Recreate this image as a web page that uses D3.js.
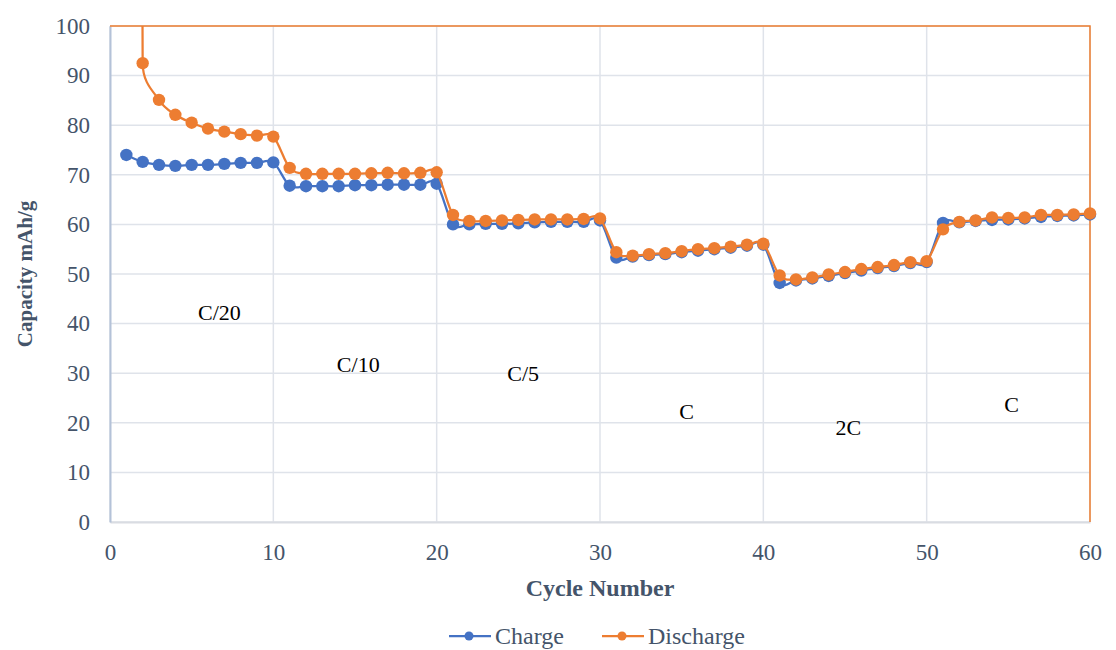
<!DOCTYPE html>
<html>
<head>
<meta charset="utf-8">
<script src="https://cdn.jsdelivr.net/npm/d3@7"></script>
<style>
  html, body { margin: 0; padding: 0; background: #ffffff; }
  svg { display: block; font-family: "Liberation Serif", "Times New Roman", serif; }
</style>
</head>
<body>
<svg id="chart" width="1116" height="650"></svg>
<script>
// Rate-capability test: charge / discharge capacity per cycle
const cycles = [
  1, 2, 3, 4, 5, 6, 7, 8, 9, 10,
  11, 12, 13, 14, 15, 16, 17, 18, 19, 20,
  21, 22, 23, 24, 25, 26, 27, 28, 29, 30,
  31, 32, 33, 34, 35, 36, 37, 38, 39, 40,
  41, 42, 43, 44, 45, 46, 47, 48, 49, 50,
  51, 52, 53, 54, 55, 56, 57, 58, 59, 60
];
const charge = [
  74.0, 72.6, 72.0, 71.8, 72.0, 72.0, 72.2, 72.4, 72.4, 72.5,
  67.8, 67.7, 67.7, 67.7, 67.9, 67.9, 68.0, 68.0, 68.0, 68.2,
  60.0, 60.0, 60.1, 60.1, 60.2, 60.4, 60.5, 60.5, 60.5, 60.8,
  53.3, 53.5, 53.8, 54.0, 54.4, 54.7, 55.0, 55.3, 55.7, 55.9,
  48.2, 48.7, 49.1, 49.6, 50.2, 50.7, 51.2, 51.6, 52.2, 52.4,
  60.3, 60.4, 60.7, 60.9, 61.0, 61.2, 61.5, 61.7, 61.8, 62.0
];
const discharge = [
  1000, 92.5, 85.1, 82.1, 80.5, 79.3, 78.7, 78.2, 77.9, 77.7,
  71.4, 70.2, 70.2, 70.2, 70.2, 70.3, 70.4, 70.3, 70.4, 70.5,
  61.9, 60.7, 60.7, 60.8, 60.9, 61.0, 61.0, 61.0, 61.1, 61.2,
  54.4, 53.7, 54.0, 54.2, 54.6, 55.0, 55.2, 55.5, 55.9, 56.1,
  49.7, 48.9, 49.3, 49.9, 50.4, 51.0, 51.4, 51.8, 52.4, 52.6,
  59.0, 60.5, 60.8, 61.4, 61.3, 61.4, 61.9, 61.9, 62.0, 62.2
];
const xTicks = [0, 10, 20, 30, 40, 50, 60];
const yTicks = [0, 10, 20, 30, 40, 50, 60, 70, 80, 90, 100];
const seriesNames = ["Charge", "Discharge"];
// C-rate of each block of ten cycles, anchored at [cycle, capacity]
const rateLabels = ["C/20", "C/10", "C/5", "C", "2C", "C"];
const rateLabelAt = [[6.7, 42.3], [15.2, 31.7], [25.3, 30.0], [35.3, 22.2], [45.2, 19.0], [55.2, 23.6]];

const colors = { Charge: "#4472c4", Discharge: "#ed7d31" };
const textColor = "#44546a";

// Smoothed line: cubic Béziers with Catmull-Rom tangents (1/6 of the
// neighbour span), each handle capped at half of its segment's chord.
function SmoothCapped(context) { this._context = context; }
SmoothCapped.prototype = {
  areaStart() { this._line = 0; },
  areaEnd() { this._line = NaN; },
  lineStart() { this._pts = []; },
  point(px, py) { this._pts.push([+px, +py]); },
  lineEnd() {
    const p = this._pts, n = p.length, c = this._context;
    if (!n) return;
    c.moveTo(p[0][0], p[0][1]);
    if (n === 1) return;
    const tan = p.map((q, i) => {
      const a = p[Math.max(0, i - 1)], b = p[Math.min(n - 1, i + 1)];
      return [(b[0] - a[0]) / 6, (b[1] - a[1]) / 6];
    });
    const cap = (t, m) => {
      const len = Math.hypot(t[0], t[1]);
      return len > m ? [t[0] * m / len, t[1] * m / len] : t;
    };
    for (let i = 0; i < n - 1; i++) {
      const a = p[i], b = p[i + 1];
      const chord = Math.hypot(b[0] - a[0], b[1] - a[1]);
      const t0 = cap(tan[i], chord * 0.5), t1 = cap(tan[i + 1], chord * 0.5);
      c.bezierCurveTo(a[0] + t0[0], a[1] + t0[1], b[0] - t1[0], b[1] - t1[1], b[0], b[1]);
    }
  }
};
const curveSmoothCapped = context => new SmoothCapped(context);

const svg = d3.select("#chart");
const x = d3.scaleLinear().domain([0, 60]).range([110, 1090]);
const y = d3.scaleLinear().domain([0, 100]).range([522, 26]);

// plot-area clip for the lines
svg.append("defs").append("clipPath").attr("id", "plotClip")
  .append("rect")
  .attr("x", x(0)).attr("y", y(100))
  .attr("width", x(60) - x(0)).attr("height", y(0) - y(100));

// gridlines
const grid = svg.append("g");
grid.selectAll("line.h").data(yTicks).join("line")
  .attr("x1", x(0)).attr("x2", x(60))
  .attr("y1", d => y(d)).attr("y2", d => y(d))
  .attr("stroke", "#dfe3ea").attr("stroke-width", 1.5);
grid.selectAll("line.v").data(xTicks).join("line")
  .attr("x1", d => x(d)).attr("x2", d => x(d))
  .attr("y1", y(0)).attr("y2", y(100))
  .attr("stroke", "#dfe3ea").attr("stroke-width", 1.5);

// axes
const xAxis = svg.append("g").attr("transform", `translate(0,${y(0)})`)
  .call(d3.axisBottom(x).tickValues(xTicks).tickSize(0).tickPadding(22));
const yAxis = svg.append("g").attr("transform", `translate(${x(0)},0)`)
  .call(d3.axisLeft(y).tickValues(yTicks).tickSize(0).tickPadding(20));
xAxis.select(".domain").attr("stroke", "#d9dce2").attr("stroke-width", 2);
yAxis.select(".domain").attr("stroke", "#b4c2d8").attr("stroke-width", 2);
svg.selectAll(".tick text")
  .attr("font-family", "Liberation Serif, serif")
  .attr("font-size", 23)
  .attr("fill", textColor);

// outer frame on the top and right edges
svg.append("path")
  .attr("d", `M${x(0)},${y(100)}H${x(60)}V${y(0)}`)
  .attr("fill", "none").attr("stroke", colors.Discharge).attr("stroke-width", 1.5);

// axis titles
svg.append("text")
  .attr("x", x(30)).attr("y", 596)
  .attr("text-anchor", "middle")
  .attr("font-size", 24).attr("font-weight", "bold").attr("fill", textColor)
  .text("Cycle Number");
svg.append("text")
  .attr("transform", `translate(32,${y(50)}) rotate(-90)`)
  .attr("text-anchor", "middle")
  .attr("font-size", 21).attr("font-weight", "bold").attr("fill", textColor)
  .text("Capacity mAh/g");

// series
const series = [
  { name: seriesNames[0], values: charge },
  { name: seriesNames[1], values: discharge }
];
const line = d3.line()
  .x((d, i) => x(cycles[i]))
  .y(d => y(d))
  .curve(curveSmoothCapped);

series.forEach(s => {
  const g = svg.append("g");
  g.append("path")
    .attr("clip-path", "url(#plotClip)")
    .attr("d", line(s.values))
    .attr("fill", "none")
    .attr("stroke", colors[s.name])
    .attr("stroke-width", 2.25);
  g.selectAll("circle")
    .data(s.values.map((v, i) => [cycles[i], v]).filter(d => d[1] <= 100))
    .join("circle")
    .attr("cx", d => x(d[0]))
    .attr("cy", d => y(d[1]))
    .attr("r", 6.2)
    .attr("fill", colors[s.name]);
});

// rate annotations
svg.append("g").selectAll("text")
  .data(rateLabels)
  .join("text")
  .attr("x", (d, i) => x(rateLabelAt[i][0]))
  .attr("y", (d, i) => y(rateLabelAt[i][1]))
  .attr("text-anchor", "middle")
  .attr("dominant-baseline", "central")
  .attr("font-size", 22)
  .attr("fill", "#000000")
  .text(d => d);

// legend
const legend = svg.append("g").attr("transform", "translate(0,636)");
const legendX = [449, 602];
seriesNames.forEach((name, i) => {
  const g = legend.append("g").attr("transform", `translate(${legendX[i]},0)`);
  g.append("line").attr("x1", 0).attr("x2", 42).attr("y1", 0).attr("y2", 0)
    .attr("stroke", colors[name]).attr("stroke-width", 2.25);
  g.append("circle").attr("cx", 20).attr("cy", 0).attr("r", 4.5).attr("fill", colors[name]);
  g.append("text").attr("x", 46).attr("y", 0)
    .attr("dominant-baseline", "central")
    .attr("font-size", 24).attr("fill", textColor)
    .text(name);
});
</script>
</body>
</html>
